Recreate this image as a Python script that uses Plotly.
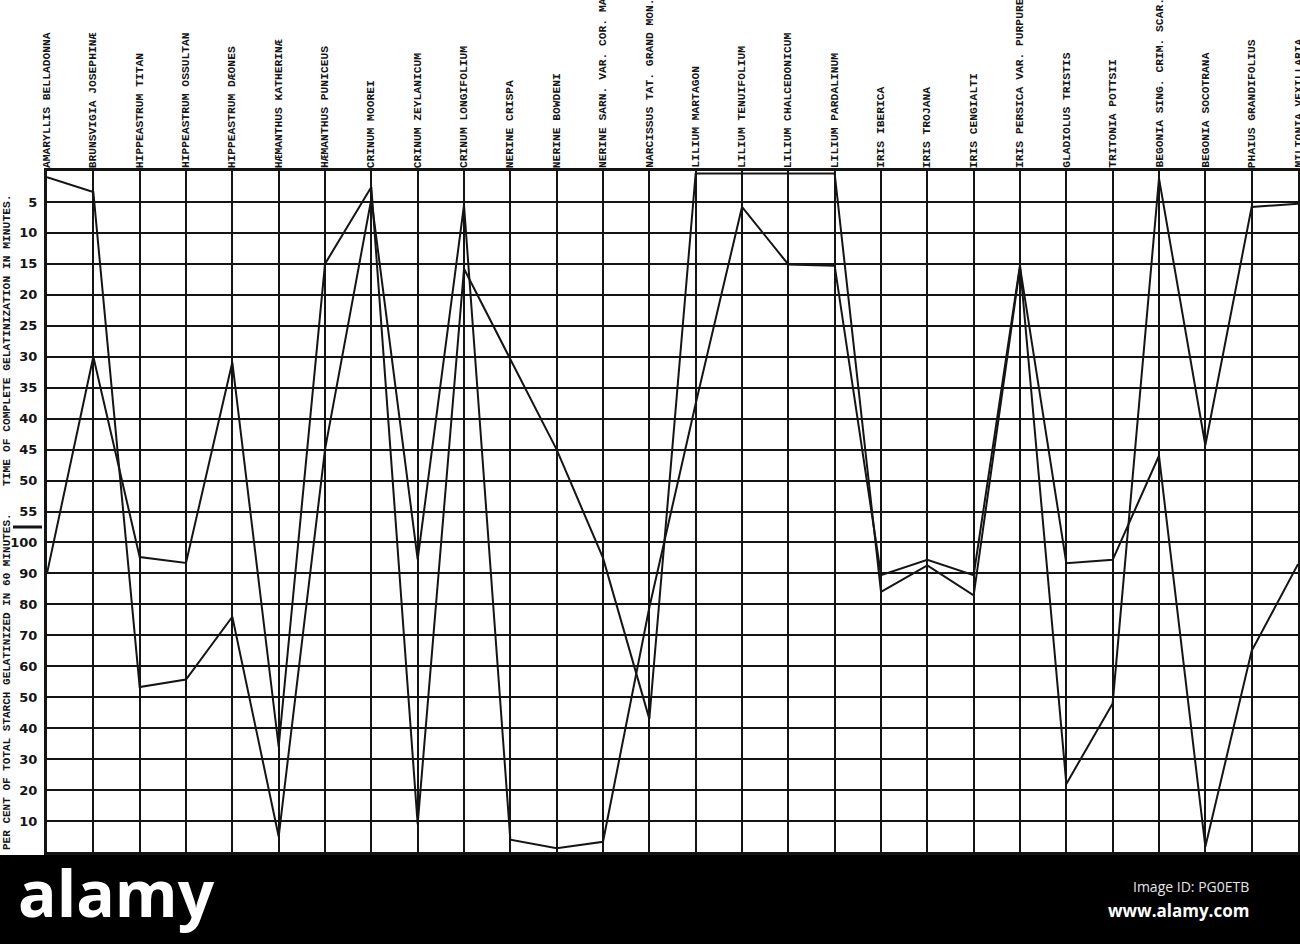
import plotly.graph_objects as go

# ---------------- data ----------------
species = [
    "AMARYLLIS BELLADONNA", "BRUNSVIGIA JOSEPHINÆ", "HIPPEASTRUM TITAN",
    "HIPPEASTRUM OSSULTAN", "HIPPEASTRUM DÆONES", "HÆMANTHUS KATHERINÆ",
    "HÆMANTHUS PUNICEUS", "CRINUM MOOREI", "CRINUM ZEYLANICUM",
    "CRINUM LONGIFOLIUM", "NERINE CRISPA", "NERINE BOWDENI",
    "NERINE SARN. VAR. COR. MAJ", "NARCISSUS TAT. GRAND MON.",
    "LILIUM MARTAGON", "LILIUM TENUIFOLIUM", "LILIUM CHALCEDONICUM",
    "LILIUM PARDALINUM", "IRIS IBERICA", "IRIS TROJANA", "IRIS CENGIALTI",
    "IRIS PERSICA VAR. PURPUREA", "GLADIOLUS TRISTIS", "TRITONIA POTTSII",
    "BEGONIA SING. CRIM. SCAR.", "BEGONIA SOCOTRANA", "PHAIUS GRANDIFOLIUS",
    "MILTONIA VEXILLARIA",
]

# Series 1: time of complete gelatinization (minutes) or, when incomplete,
# per cent of total starch gelatinized in 60 minutes.
minutes_1 = [1.0, 3.4, None, None, None, None, 45, 4.5, None, 5.5, None, None,
             None, None, 37.6, 5.8, 15.1, 15.3, None, None, None, 15.2, None,
             None, 1.2, 44.3, 5.8, 5.3]
percent_1 = [None, None, 53.3, 55.7, 76, 5, None, None, 94.5, None, 4, 1.2,
             3.3, 79, None, None, None, None, 89.4, 94.4, 89.4, None, 22,
             48, None, None, None, None]

minutes_2 = [None, 30, None, None, 30.9, None, 15, 2.6, None, 15.8, 30.4, 45,
             None, None, 0.4, 0.4, 0.4, 0.4, None, None, None, 15.5, None,
             None, 46, None, None, None]
percent_2 = [90, None, 95.3, 93.4, None, 34, None, None, 9, None, None, None,
             95, 43, None, None, None, None, 84, 92.6, 82.9, None, 93.3, 94.4,
             None, 1.7, 65, 93]

time_ticks = [5, 10, 15, 20, 25, 30, 35, 40, 45, 50, 55]
percent_ticks = [100, 90, 80, 70, 60, 50, 40, 30, 20, 10]

MIN_PER_ROW = 5
PCT_PER_ROW = 10
PCT_ROW0 = len(time_ticks) + 1      # row where 100 % sits
N_ROWS = PCT_ROW0 + len(percent_ticks)


def to_row(m, p):
    if m is not None:
        return m / MIN_PER_ROW
    return PCT_ROW0 + (100 - p) / PCT_PER_ROW


xs = list(range(len(species)))
rows_1 = [to_row(m, p) for m, p in zip(minutes_1, percent_1)]
rows_2 = [to_row(m, p) for m, p in zip(minutes_2, percent_2)]

tick_rows = [t / MIN_PER_ROW for t in time_ticks] + \
            [PCT_ROW0 + (100 - p) / PCT_PER_ROW for p in percent_ticks]
tick_text = [str(t) for t in time_ticks] + [str(p) for p in percent_ticks]

# ---------------- figure ----------------
W, H = 1300, 944
L, R, T, B = 47, 2, 171, 92
PW, PH = W - L - R, H - T - B


def px_x(x):                  # screen pixel -> paper fraction
    return (x - L) / PW


def px_y(y):
    return 1 - (y - T) / PH


INK = "#141414"
fig = go.Figure()
for rows in (rows_1, rows_2):
    fig.add_trace(go.Scatter(x=xs, y=rows, mode="lines",
                             line=dict(color=INK, width=2),
                             hoverinfo="skip", showlegend=False))

fig.update_xaxes(range=[0, len(species) - 1], tickvals=xs, showticklabels=False,
                 ticks="", showgrid=True, gridcolor=INK, gridwidth=2,
                 showline=True, mirror=True, linecolor=INK, linewidth=3,
                 zeroline=False, fixedrange=True, automargin=False)
fig.update_yaxes(range=[N_ROWS, 0], tickvals=tick_rows, ticktext=tick_text,
                 ticks="", showgrid=True, gridcolor=INK, gridwidth=2,
                 showline=True, mirror=True, linecolor=INK, linewidth=3,
                 zeroline=False, ticklabelstandoff=4,
                 tickfont=dict(family="DejaVu Sans", size=13, color=INK,
                               weight="bold"),
                 fixedrange=True, automargin=False)

annotations = []
for i, name in enumerate(species):
    annotations.append(dict(
        x=i, y=1, xref="x", yref="paper", text=name, showarrow=False,
        textangle=-90, xanchor="center", yanchor="bottom", yshift=1,
        font=dict(family="Liberation Mono", size=11.3, color=INK,
                  weight="bold")))

annotations.append(dict(
    x=px_x(7), y=px_y(340), xref="paper", yref="paper",
    text="TIME OF COMPLETE GELATINIZATION IN MINUTES.", showarrow=False,
    textangle=-90, xanchor="center", yanchor="middle",
    font=dict(family="Liberation Mono", size=11.3, color=INK, weight="bold")))
annotations.append(dict(
    x=px_x(7), y=px_y(682), xref="paper", yref="paper",
    text="PER CENT OF TOTAL STARCH GELATINIZED IN 60 MINUTES.", showarrow=False,
    textangle=-90, xanchor="center", yanchor="middle",
    font=dict(family="Liberation Mono", size=11, color=INK, weight="bold")))

# watermark band text
annotations.append(dict(
    x=px_x(16), y=px_y(892), xref="paper", yref="paper", text="alamy",
    showarrow=False, xanchor="left", yanchor="middle",
    font=dict(family="Open Sans", size=64, color="white", weight="bold")))
annotations.append(dict(
    x=px_x(1251), y=px_y(886), xref="paper", yref="paper",
    text="Image ID: PG0ETB", showarrow=False, xanchor="right", yanchor="middle",
    font=dict(family="Open Sans", size=14, color="#e6e6e6")))
annotations.append(dict(
    x=px_x(1251), y=px_y(910), xref="paper", yref="paper",
    text="www.alamy.com", showarrow=False, xanchor="right", yanchor="middle",
    font=dict(family="Open Sans", size=17, color="white", weight="bold")))

shapes = [
    dict(type="rect", xref="paper", yref="paper", x0=px_x(-5), x1=px_x(1305),
         y0=px_y(950), y1=px_y(855), fillcolor="black", line=dict(width=0),
         layer="above"),
    dict(type="line", xref="paper", yref="paper", x0=px_x(13), x1=px_x(42),
         y0=px_y(527), y1=px_y(527), line=dict(color=INK, width=3)),
]

fig.update_layout(template="none", width=W, height=H,
                  margin=dict(l=L, r=R, t=T, b=B, autoexpand=False),
                  paper_bgcolor="white", plot_bgcolor="white",
                  annotations=annotations, shapes=shapes, showlegend=False)

# remove the browser's default 8px page margin so the figure fills the window
fig.write_html("out.html",
               config={"displayModeBar": False, "staticPlot": True},
               post_script="document.body.style.margin='0';"
                           "document.body.style.overflow='hidden';")
